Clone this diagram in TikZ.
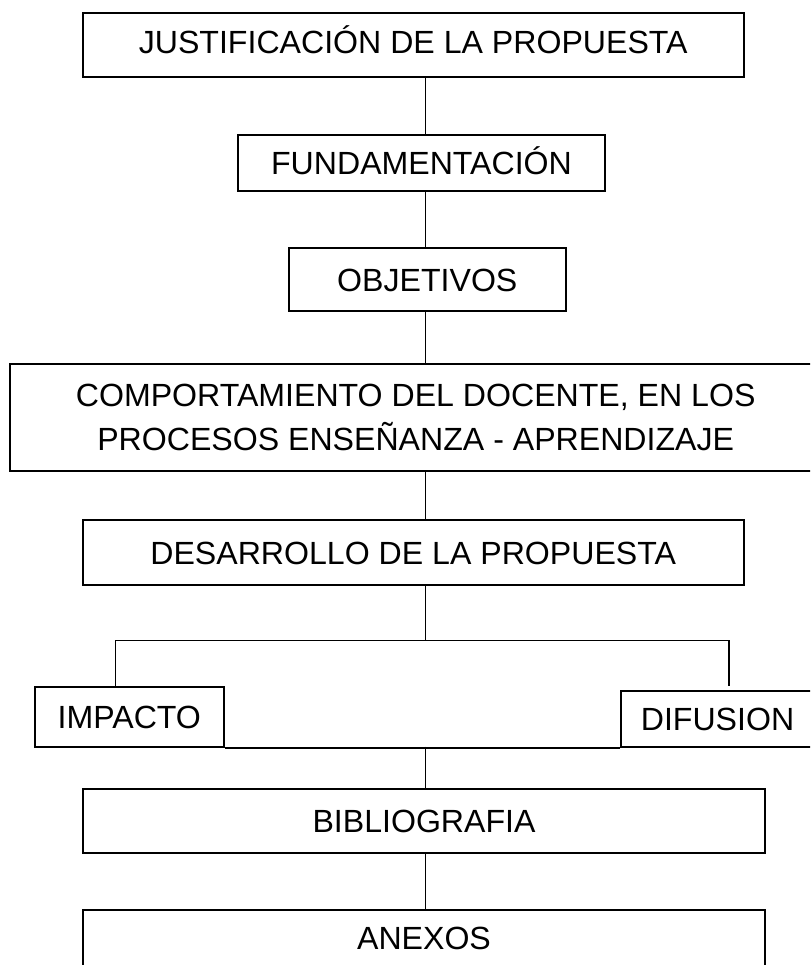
\documentclass[tikz,border=0pt]{standalone}
\usepackage{fontspec}
\setmainfont{Liberation Sans}
\begin{document}
\begin{tikzpicture}[x=1pt,y=-1pt,
  box/.style={draw, line width=2pt, inner sep=0pt, align=center,
    font=\fontsize{32.1}{43.3}\selectfont},
  oneline/.style={text height=23pt, text depth=0pt},
  link/.style={line width=1.3pt}]
\useasboundingbox (0,0) rectangle (810,965);
\clip (0,0) rectangle (810,965);
\coordinate (sp) at (425.6,0);

\node[box, oneline, text depth=6.6pt, minimum width=661.2pt, minimum height=64.6pt] (just) at (413.2,45) {JUSTIFICACIÓN DE LA PROPUESTA};
\node[box, oneline, minimum width=367pt, minimum height=56pt] (fund) at (421.5,163) {FUNDAMENTACIÓN};
\node[box, oneline, minimum width=276.6pt, minimum height=63pt] (obj) at (427.3,279.5) {OBJETIVOS};
\node[box, minimum width=810.7pt, minimum height=106.4pt] (comp) at (415.7,417.5) {COMPORTAMIENTO DEL DOCENTE, EN LOS\\PROCESOS ENSEÑANZA - APRENDIZAJE};
\node[box, oneline, minimum width=661.2pt, minimum height=64.7pt] (des) at (413.2,552.7) {DESARROLLO DE LA PROPUESTA};
\node[box, oneline, minimum width=188.5pt, minimum height=60pt] (imp) at (129.3,716.7) {IMPACTO};
\node[box, oneline, minimum width=193pt, minimum height=56.2pt] (dif) at (717.5,718.6) {DIFUSION};
\node[box, oneline, minimum width=682.9pt, minimum height=63.7pt] (bib) at (424,820.8) {BIBLIOGRAFIA};
\node[box, anchor=north, inner ysep=0pt, text height=39.8pt, text depth=40pt, minimum width=682.9pt] (anx) at (424,908.5) {ANEXOS};

\coordinate (jn) at (425.6,640.7);
\coordinate (lft) at (115.7,640.7);
\coordinate (rgt) at (729,640.7);
\coordinate (rgtend) at (729,686);
\coordinate (bj) at (425.6,746.7);

\draw[link] (just.south -| sp) -- (fund.north -| sp);
\draw[link] (fund.south -| sp) -- (obj.north -| sp);
\draw[link] (obj.south -| sp) -- (comp.north -| sp);
\draw[link] (comp.south -| sp) -- (des.north -| sp);
\draw[link] (des.south -| sp) -- (jn);
\draw[link] (imp.north -| lft) -- (lft) -- (rgt) -- (rgtend);
\draw[line width=2pt] (imp.south east) -- (dif.south west);
\draw[link] (bj) -- (bib.north -| sp);
\draw[link] (bib.south -| sp) -- (anx.north -| sp);
\end{tikzpicture}
\end{document}
